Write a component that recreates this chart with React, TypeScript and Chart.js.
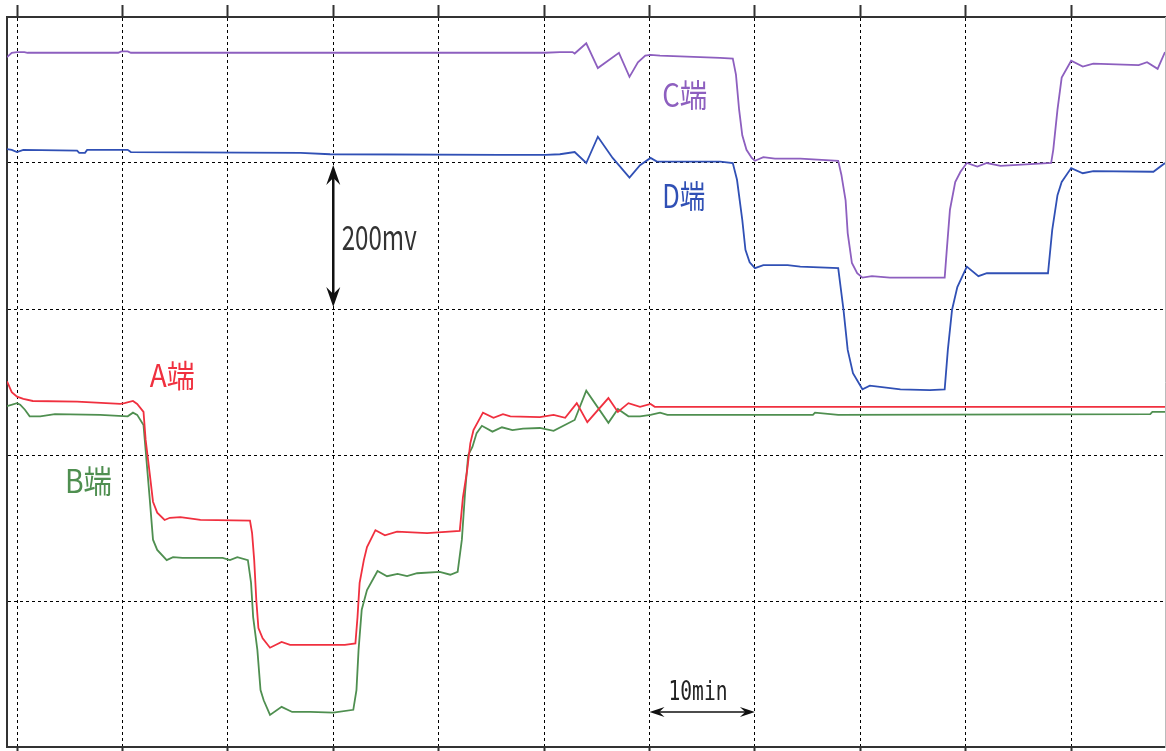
import { useEffect, useRef } from "react";
import { Chart, registerables } from "chart.js";

Chart.register(...registerables);

// Time axis: one division = 10 min; voltage axis: one division = 200 mV
const X_GRID = [0, 10, 20, 30, 40, 50, 60, 70, 80, 90, 100];
const Y_GRID = [200, 400, 600, 800];
const X_MIN = -0.95;
const X_MAX = 108.9;
const Y_MIN = 0;
const Y_MAX = 1000;

// [minutes, mV]
const C_TRACE: [number, number][] = [
  [-0.95, 945], [-0.5, 951], [0, 952], [0.7, 952], [1.0, 951], [9.6, 951], [9.9, 953], [10.5, 953],
  [10.8, 951], [50.1, 951], [51.5, 952], [52.7, 952], [52.9, 950], [54.0, 964], [55.1, 930],
  [57.1, 951], [58.1, 918], [58.9, 938], [59.6, 947], [60.1, 948], [61.0, 947], [64.8, 945],
  [66.7, 944], [67.9, 943], [68.2, 921], [68.5, 873], [68.8, 838], [69.2, 818], [69.7, 807],
  [70.0, 803], [70.8, 808], [71.9, 806], [74.3, 806], [77.9, 803], [78.2, 784], [78.6, 749],
  [78.8, 704], [79.2, 663], [79.7, 649], [80.2, 643], [81.1, 645], [82.8, 643], [88.0, 643],
  [88.2, 681], [88.5, 736], [89.0, 774], [89.5, 788], [90.1, 800], [91.1, 795], [92.0, 800],
  [93.3, 796], [98.1, 800], [98.3, 818], [98.7, 873], [99.1, 917], [100.0, 940], [101.1, 932],
  [102.1, 936], [106.4, 934], [107.2, 938], [108.2, 929], [108.9, 952],
];

const D_TRACE: [number, number][] = [
  [-0.95, 819], [-0.5, 818], [0, 815], [0.6, 818], [5.7, 817], [5.9, 814], [6.45, 814], [6.65, 818],
  [10.5, 818], [10.8, 815], [26.9, 814], [29.7, 812], [45.8, 811], [50.1, 811], [51.5, 812],
  [52.9, 815], [54.0, 800], [55.1, 836], [56.5, 807], [58.1, 780], [59.1, 797], [60.1, 807],
  [60.7, 802], [66.7, 802], [67.9, 800], [68.3, 777], [68.8, 722], [69.1, 681], [69.5, 664],
  [70.0, 656], [70.8, 660], [73.1, 660], [74.3, 658], [77.9, 656], [78.4, 599], [78.8, 544],
  [79.3, 512], [80.2, 490], [80.9, 495], [83.8, 490], [86.6, 489], [88.0, 490], [88.3, 544],
  [88.7, 599], [89.2, 630], [90.1, 658], [91.2, 645], [92.0, 649], [97.8, 649], [98.2, 708],
  [98.7, 756], [99.1, 774], [100.0, 793], [101.1, 786], [102.1, 789], [107.8, 788], [108.9, 800],
];

const A_TRACE: [number, number][] = [
  [-0.95, 501], [-0.5, 486], [0, 480], [0.6, 477], [1.5, 474], [5.7, 473], [9.8, 470], [10.2, 471],
  [11.0, 474], [11.4, 470], [12.0, 459], [12.2, 421], [12.6, 373], [12.9, 336], [13.3, 321],
  [14.0, 311], [14.5, 314], [15.5, 315], [17.4, 311], [22.1, 310], [22.3, 293], [22.5, 256],
  [22.7, 201], [22.9, 163], [23.3, 149], [24.0, 136], [25.1, 144], [25.9, 140], [31.1, 140],
  [32.1, 142], [32.3, 178], [32.5, 225], [32.9, 256], [33.2, 274], [34.0, 297], [34.9, 290],
  [36.05, 295], [38.9, 293], [42.0, 296], [42.3, 342], [42.7, 379], [43.0, 416], [43.3, 434],
  [44.2, 458], [45.2, 451], [46.1, 456], [46.8, 453], [49.6, 452], [50.9, 455], [52.0, 451],
  [53.1, 471], [54.1, 445], [56.1, 478], [57.0, 459], [58.0, 471], [59.1, 466], [60.1, 470],
  [60.5, 466], [108.9, 466],
];

const B_TRACE: [number, number][] = [
  [-0.95, 467], [0, 471], [0.3, 469], [0.75, 462], [1.2, 453], [2.2, 453], [3.6, 456], [7.9, 455],
  [10.5, 453], [11.0, 458], [11.4, 455], [12.0, 441], [12.2, 407], [12.6, 338], [12.9, 284],
  [13.3, 270], [14.2, 256], [14.8, 260], [15.7, 259], [19.5, 259], [20.2, 256], [20.9, 260],
  [21.9, 256], [22.2, 225], [22.4, 178], [22.8, 133], [23.1, 78], [23.4, 64], [24.0, 44],
  [25.1, 55], [26.1, 48], [27.8, 48], [30.0, 47], [31.9, 51], [32.2, 78], [32.4, 133],
  [32.7, 188], [33.2, 215], [34.2, 241], [35.1, 234], [36.1, 237], [37.0, 234], [37.95, 238],
  [40.1, 240], [41.1, 236], [41.8, 240], [42.2, 284], [42.5, 348], [42.8, 400], [43.2, 411],
  [43.6, 430], [44.1, 440], [45.1, 432], [46.0, 438], [47.0, 434], [48.0, 436], [49.6, 437],
  [50.9, 433], [52.9, 448], [54.0, 488], [56.1, 444], [57.0, 463], [58.0, 453], [59.1, 453],
  [60.1, 455], [61.0, 458], [61.7, 455], [75.5, 455], [75.7, 458], [77.9, 455], [107.5, 456],
  [107.7, 459], [108.9, 459],
];

const SERIES_NAMES = ["C端", "D端", "A端", "B端"];

const COLOR_C = "#8d5fbf";
const COLOR_D = "#3050b5";
const COLOR_A = "#f0303f";
const COLOR_B = "#4f8f50";

// Scale markers: 200 mV span at t = 30 min, 10 min span near the bottom
const SPAN_MV = { t: 30, from: 800, to: 600, text: "200mv" };
const SPAN_MIN = { v: 48, from: 60, to: 70, text: "10min" };

type Label = {
  text: string;
  t: number;
  v: number;
  size: number;
  width: number;
  color: string;
  mono?: boolean;
};

const LABELS: Label[] = [
  { text: SERIES_NAMES[0], t: 61.2, v: 877, size: 32, width: 45, color: COLOR_C },
  { text: SERIES_NAMES[1], t: 61.2, v: 738, size: 32, width: 43, color: COLOR_D },
  { text: SERIES_NAMES[2], t: 12.6, v: 493, size: 31, width: 45, color: COLOR_A },
  { text: SERIES_NAMES[3], t: 4.55, v: 348, size: 32, width: 47, color: COLOR_B },
  { text: SPAN_MV.text, t: 30.8, v: 681, size: 34, width: 75, color: "#333333" },
  { text: SPAN_MIN.text, t: 61.8, v: 64, size: 26, width: 59, color: "#222222", mono: true },
];

function arrowHead(
  ctx: CanvasRenderingContext2D,
  tipX: number,
  tipY: number,
  dx: number,
  dy: number,
  len: number,
  half: number
) {
  const px = -dy;
  const py = dx;
  ctx.beginPath();
  ctx.moveTo(tipX, tipY);
  ctx.lineTo(tipX - dx * len + px * half, tipY - dy * len + py * half);
  ctx.lineTo(tipX - dx * len * 0.65, tipY - dy * len * 0.65);
  ctx.lineTo(tipX - dx * len - px * half, tipY - dy * len - py * half);
  ctx.closePath();
  ctx.fill();
}

const annotationPlugin = {
  id: "scopeAnnotations",
  afterDatasetsDraw(chart: any) {
    const ctx: CanvasRenderingContext2D = chart.ctx;
    const xs = chart.scales.x;
    const ys = chart.scales.y;
    ctx.save();

    // vertical 200 mV span
    const vx = xs.getPixelForValue(SPAN_MV.t);
    const vy1 = ys.getPixelForValue(SPAN_MV.from) + 2;
    const vy2 = ys.getPixelForValue(SPAN_MV.to) - 2;
    ctx.strokeStyle = "#111111";
    ctx.fillStyle = "#111111";
    ctx.lineWidth = 2.5;
    ctx.beginPath();
    ctx.moveTo(vx, vy1 + 12);
    ctx.lineTo(vx, vy2 - 12);
    ctx.stroke();
    arrowHead(ctx, vx, vy1, 0, -1, 20, 7);
    arrowHead(ctx, vx, vy2, 0, 1, 20, 7);

    // horizontal 10 min span
    const hy = ys.getPixelForValue(SPAN_MIN.v);
    const hx1 = xs.getPixelForValue(SPAN_MIN.from);
    const hx2 = xs.getPixelForValue(SPAN_MIN.to);
    ctx.lineWidth = 1.6;
    ctx.beginPath();
    ctx.moveTo(hx1 + 8, hy);
    ctx.lineTo(hx2 - 8, hy);
    ctx.stroke();
    arrowHead(ctx, hx1, hy, -1, 0, 15, 5);
    arrowHead(ctx, hx2, hy, 1, 0, 15, 5);

    // text labels, fitted to their widths
    for (const l of LABELS) {
      const px = xs.getPixelForValue(l.t);
      const py = ys.getPixelForValue(l.v);
      ctx.font = l.mono
        ? `${l.size}px "DejaVu Sans Mono", monospace`
        : `${l.size}px "Noto Sans CJK JP", "DejaVu Sans", sans-serif`;
      const w = ctx.measureText(l.text).width;
      ctx.save();
      ctx.translate(px, py);
      ctx.scale(l.width / w, 1);
      ctx.fillStyle = l.color;
      ctx.textAlign = "left";
      ctx.textBaseline = "alphabetic";
      ctx.fillText(l.text, 0, 0);
      ctx.restore();
    }
    ctx.restore();
  },
};

const toPoints = (trace: [number, number][]) => trace.map(([t, v]) => ({ x: t, y: v }));

export default function App() {
  const canvasRef = useRef<HTMLCanvasElement | null>(null);

  useEffect(() => {
    document.body.style.margin = "0";
    const canvas = canvasRef.current;
    if (!canvas) return;

    const lineSet = (label: string, trace: [number, number][], color: string) => ({
      label,
      data: toPoints(trace),
      borderColor: color,
      backgroundColor: color,
      borderWidth: 1.8,
      pointRadius: 0,
      tension: 0,
      fill: false,
    });

    const xTicks = (axis: any) => {
      axis.ticks = X_GRID.map((value) => ({ value }));
    };

    const chart = new Chart(canvas, {
      type: "line",
      data: {
        datasets: [
          lineSet(SERIES_NAMES[0], C_TRACE, COLOR_C),
          lineSet(SERIES_NAMES[1], D_TRACE, COLOR_D),
          lineSet(SERIES_NAMES[2], A_TRACE, COLOR_A),
          lineSet(SERIES_NAMES[3], B_TRACE, COLOR_B),
        ],
      },
      options: {
        animation: false,
        responsive: false,
        devicePixelRatio: 1,
        layout: { padding: { left: 7, top: 5, right: 1, bottom: 0 } },
        plugins: {
          legend: { display: false },
          tooltip: { enabled: false },
        },
        scales: {
          x: {
            type: "linear",
            position: "top",
            min: X_MIN,
            max: X_MAX,
            afterBuildTicks: xTicks,
            ticks: { display: false },
            grid: {
              color: "#000000",
              lineWidth: 1,
              drawTicks: true,
              tickLength: 12,
              tickWidth: 2,
              tickColor: "#333333",
              tickBorderDash: [6, 0],
            },
            border: { display: true, color: "#333333", width: 2, dash: [3, 3] },
          },
          x2: {
            type: "linear",
            position: "bottom",
            min: X_MIN,
            max: X_MAX,
            afterBuildTicks: xTicks,
            ticks: { display: false },
            grid: {
              drawOnChartArea: false,
              drawTicks: true,
              tickLength: 4,
              tickWidth: 2,
              tickColor: "#333333",
              tickBorderDash: [6, 0],
            },
            border: { display: true, color: "#333333", width: 2 },
          },
          y: {
            type: "linear",
            position: "left",
            min: Y_MIN,
            max: Y_MAX,
            afterBuildTicks: (axis: any) => {
              axis.ticks = Y_GRID.map((value) => ({ value }));
            },
            ticks: { display: false },
            grid: { color: "#000000", lineWidth: 1, drawTicks: false },
            border: { display: true, color: "#333333", width: 2, dash: [3, 3] },
          },
          y2: {
            type: "linear",
            position: "right",
            min: Y_MIN,
            max: Y_MAX,
            ticks: { display: false },
            grid: { display: false, drawTicks: false },
            border: { display: true, color: "#bbbbbb", width: 1 },
          },
        },
      } as any,
      plugins: [annotationPlugin],
    });

    return () => chart.destroy();
  }, []);

  return (
    <canvas
      ref={canvasRef}
      width={1166}
      height={751}
      style={{ display: "block", width: "1166px", height: "751px" }}
    />
  );
}
